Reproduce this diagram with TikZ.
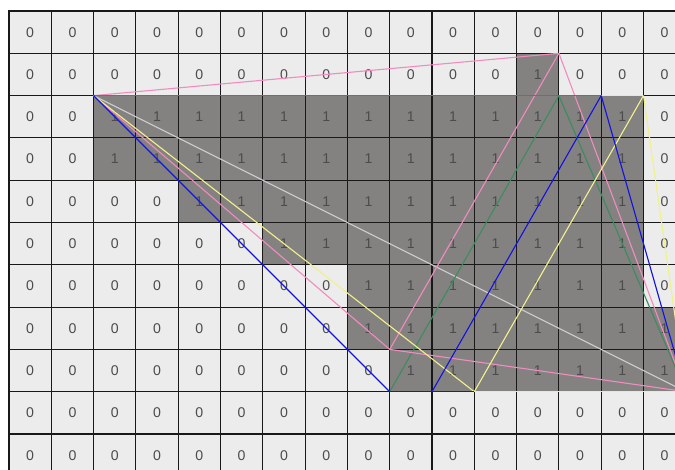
\documentclass[tikz,border=0pt]{standalone}
\usepackage{fontspec}
\newfontfamily\cellfont{Liberation Sans}
\usepackage{tikz}
\definecolor{cellbg}{RGB}{236,236,236}
\definecolor{cellfill}{RGB}{132,129,129}
\definecolor{lnpink}{RGB}{240,140,190}
\definecolor{lnyellow}{RGB}{240,240,140}
\definecolor{lngreen}{RGB}{60,140,95}
\definecolor{lnblue}{RGB}{20,20,225}
\definecolor{lntop}{RGB}{100,95,225}
\definecolor{lnwhite}{RGB}{205,205,205}

\begin{document}
\begin{tikzpicture}[x=1cm, y=1cm,
    cell/.style={draw=black!90, line width=0.75pt, minimum size=1cm, inner sep=0pt,
                 font=\cellfont\fontsize{9.5}{11}\selectfont, text=black!70},
    zero/.style={cell, fill=cellbg},
    one/.style={cell, fill=cellfill},
    seg/.style={line width=0.75pt}]
    \clip (-0.213,0.26) rectangle (15.745,-10.851);
    \fill[white] (-0.213,0.26) rectangle (15.745,-10.851);

    % cells, one row at a time: the 1s run from column \lo to \hi
    \foreach \r/\lo/\hi in {0/99/-1, 1/12/12, 2/2/14, 3/2/14, 4/4/14, 5/6/14,
                            6/8/14, 7/8/15, 8/9/15, 9/99/-1, 10/99/-1}
      \foreach \c in {0,...,15} {
        \pgfmathtruncatemacro\bit{(\c>\lo-1)*(\c<\hi+1)}
        \ifnum\bit=1
          \node[one] (c\r-\c) at (\c+0.5,-\r-0.5) {1};
        \else
          \node[zero] (c\r-\c) at (\c+0.5,-\r-0.5) {0};
        \fi
      }

    % corner points
    \coordinate (a) at (2,-2);
    \coordinate (pk) at (13,-1);
    \coordinate (gn) at (13,-2);
    \coordinate (bl) at (14,-2);
    \coordinate (yl) at (15,-2);
    \coordinate (pb) at (9,-8);
    \coordinate (b1) at (9,-9);
    \coordinate (b2) at (10,-9);
    \coordinate (b3) at (11,-9);
    \coordinate (e) at (16,-9);

    \path[seg]
        (a) edge[lnwhite] (e)
        (b1) edge[lngreen] (gn)
        (gn) edge[lngreen] (e)
        (a) edge[lnpink] (pk)
        (a) edge[lnpink] (pb)
        (pb) edge[lnpink] (pk)
        (pk) edge[lnpink] (e)
        (pb) edge[lnpink] (e)
        (a) edge[lnyellow] (yl)
        (a) edge[lnyellow] (b3)
        (b3) edge[lnyellow] (yl)
        (yl) edge[lnyellow] (e)
        (a) edge[lntop] (bl)
        (a) edge[lnblue] (b1)
        (b1) edge[lnblue] (e)
        (b2) edge[lnblue] (bl)
        (bl) edge[lnblue] (e)
        (b3) edge[lnyellow] (e);
\end{tikzpicture}
\end{document}
